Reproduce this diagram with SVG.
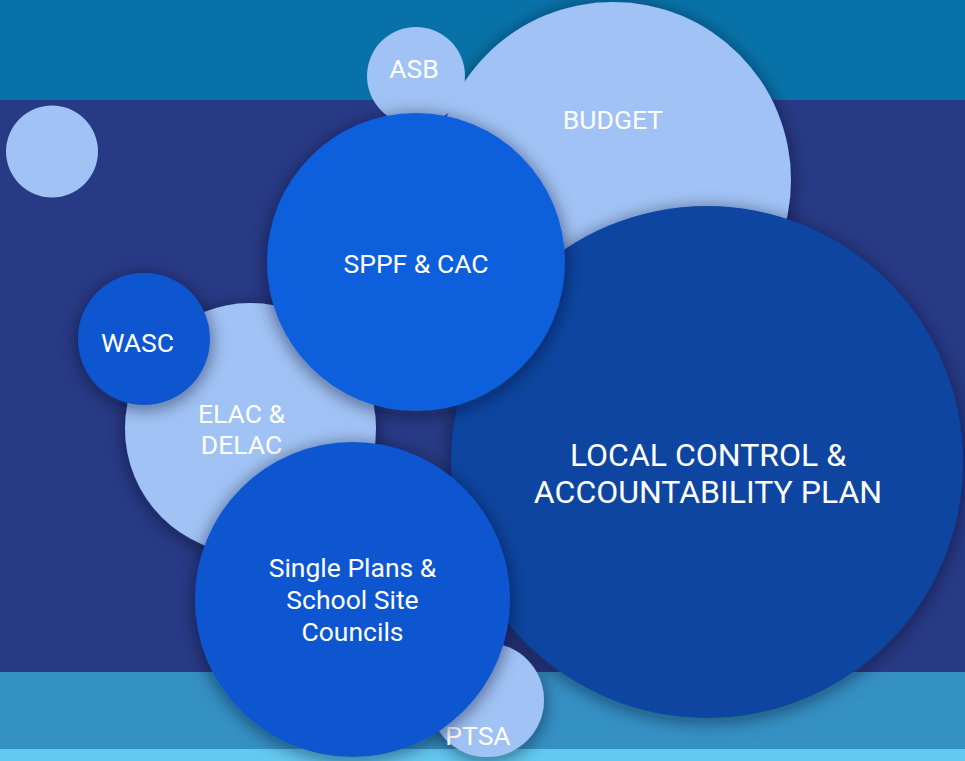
<svg xmlns="http://www.w3.org/2000/svg" width="965" height="761" viewBox="0 0 965 761">
  <defs>
    <filter id="sh" x="-30%" y="-30%" width="160%" height="160%">
      <feDropShadow dx="0" dy="3" stdDeviation="9" flood-color="#000820" flood-opacity="0.55"/>
    </filter>
    <style>
      .lt { fill: #a0c2f5; }
      .b1 { fill: #0d5fdc; }
      .b2 { fill: #0b57d0; }
      .b3 { fill: #0944a0; }
      .t { font-family: Roboto, "Liberation Sans", sans-serif; fill: #ffffff; text-anchor: middle; font-size: 26.5px; }
      .tl { font-size: 32px; }
    </style>
  </defs>
  <g id="background">
    <rect x="0" y="0" width="965" height="100" fill="#0872a8"/>
    <rect x="0" y="100" width="965" height="573" fill="#283a86"/>
    <rect x="0" y="672" width="965" height="78" fill="#3590c4"/>
    <rect x="0" y="749" width="965" height="12" fill="#62c9f0"/>
  </g>
  <g id="connectors"/>
  <g id="dot">
    <circle class="lt" cx="52" cy="151.5" r="46"/>
  </g>
  <g id="budget">
    <circle class="lt" cx="613" cy="180" r="178" filter="url(#sh)"/>
    <text class="t" x="613" y="129">BUDGET</text>
  </g>
  <g id="asb">
    <circle class="lt" cx="416" cy="76" r="49"/>
    <text class="t" x="414" y="78">ASB</text>
  </g>
  <g id="lcap">
    <circle class="b3" cx="707" cy="462" r="256" filter="url(#sh)"/>
    <text class="t tl" x="708" y="466">LOCAL CONTROL &amp;</text>
    <text class="t tl" x="708" y="503">ACCOUNTABILITY PLAN</text>
  </g>
  <g id="elac">
    <circle class="lt" cx="250.5" cy="428.5" r="125.5" filter="url(#sh)"/>
    <text class="t" x="241.5" y="423">ELAC &amp;</text>
    <text class="t" x="241.5" y="454">DELAC</text>
  </g>
  <g id="wasc">
    <circle class="b2" cx="144" cy="339" r="66" filter="url(#sh)"/>
    <text class="t" x="137.5" y="352">WASC</text>
  </g>
  <g id="sppf">
    <circle class="b1" cx="416" cy="262" r="149" filter="url(#sh)"/>
    <text class="t" x="416" y="273">SPPF &amp; CAC</text>
  </g>
  <g id="ptsa">
    <circle class="lt" cx="487" cy="700" r="57" filter="url(#sh)"/>
    <text class="t" x="478" y="745">PTSA</text>
  </g>
  <g id="single">
    <circle class="b2" cx="352.5" cy="599.5" r="157.5" filter="url(#sh)"/>
    <text class="t" x="352.5" y="577">Single Plans &amp;</text>
    <text class="t" x="352.5" y="609">School Site</text>
    <text class="t" x="352.5" y="641">Councils</text>
  </g>
</svg>
